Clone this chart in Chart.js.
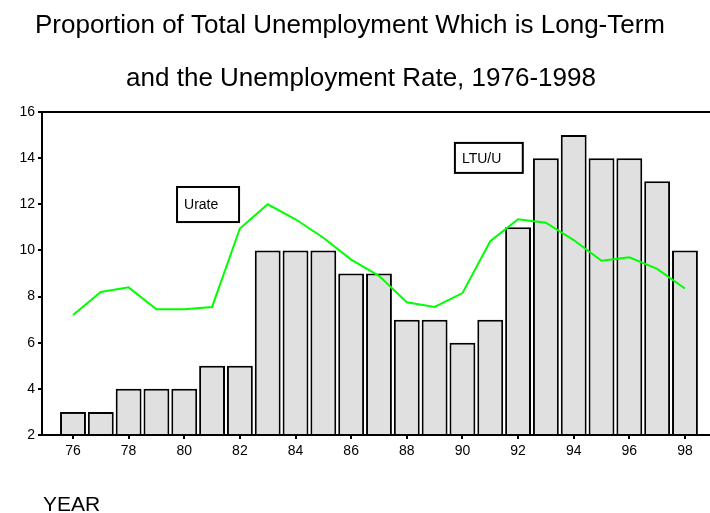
<!DOCTYPE html>
<html>
<head>
<meta charset="utf-8">
<script src="https://cdn.jsdelivr.net/npm/chart.js@4"></script>
<style>
  html, body { margin: 0; padding: 0; background: #fff; }
  #wrap { width: 710px; height: 513px; }
</style>
</head>
<body>
<div id="wrap"><canvas id="chart1" width="710" height="513"></canvas></div>
<script>
const years = [76, 77, 78, 79, 80, 81, 82, 83, 84, 85, 86, 87, 88, 89, 90, 91, 92, 93, 94, 95, 96, 97, 98];
const ltuShare = [3, 3, 4, 4, 4, 5, 5, 10, 10, 10, 9, 9, 7, 7, 6, 7, 11, 14, 15, 14, 14, 13, 10];
const urate = [7.2, 8.2, 8.4, 7.45, 7.45, 7.55, 10.95, 12.0, 11.35, 10.55, 9.6, 8.9, 7.75, 7.55, 8.15, 10.4, 11.35, 11.2, 10.45, 9.55, 9.7, 9.2, 8.35];
const xTickYears = [76, 78, 80, 82, 84, 86, 88, 90, 92, 94, 96, 98];
const yTickValues = [2, 4, 6, 8, 10, 12, 14, 16];

const FONT = '"Liberation Sans", Arial, sans-serif';

// titles, axis caption, frame top and the two series labels
const extras = {
    id: 'extras',
    afterDatasetsDraw(chart) {
        const c = chart.ctx;
        const xs = chart.scales.x;
        const ys = chart.scales.y;
        const area = chart.chartArea;
        c.save();
        c.fillStyle = '#000';
        c.textBaseline = 'alphabetic';
        c.textAlign = 'center';
        c.font = '26px ' + FONT;
        c.fillText('Proportion of Total Unemployment Which is Long-Term', 350, 33);
        c.fillText('and the Unemployment Rate, 1976-1998', 361, 86);
        c.textAlign = 'left';
        c.font = '21px ' + FONT;
        c.fillText('YEAR', 43, 511);

        c.strokeStyle = '#000';
        c.lineWidth = 2;
        c.beginPath();
        c.moveTo(area.left, area.top);
        c.lineTo(area.right, area.top);
        c.stroke();

        const box = (label, x0, x1, y0, y1) => {
            const l = xs.getPixelForValue(x0), r = xs.getPixelForValue(x1);
            const t = ys.getPixelForValue(y0), b = ys.getPixelForValue(y1);
            c.fillStyle = '#fff';
            c.fillRect(l, t, r - l, b - t);
            c.strokeRect(l, t, r - l, b - t);
            c.fillStyle = '#000';
            c.font = '14px ' + FONT;
            c.textBaseline = 'middle';
            c.fillText(label, l + 7, (t + b) / 2 + 1);
        };
        box('Urate', 79.74, 81.97, 12.75, 11.23);
        box('LTU/U', 89.73, 92.17, 14.66, 13.36);
        c.restore();
    }
};

const ctx1 = document.getElementById('chart1').getContext('2d');
const chart1 = new Chart(ctx1, {
    type: 'bar',
    data: {
        datasets: [{
            type: 'line',
            label: 'Urate',
            data: years.map((y, i) => ({ x: y, y: urate[i] })),
            borderColor: '#00ff00',
            borderWidth: 2,
            pointRadius: 0,
            tension: 0,
            fill: false,
            order: 0
        }, {
            type: 'bar',
            label: 'LTU/U',
            data: years.map((y, i) => ({ x: y, y: ltuShare[i] })),
            backgroundColor: '#e0e0e0',
            borderColor: '#000',
            borderWidth: 2,
            base: 2,
            categoryPercentage: 1,
            barPercentage: 0.93,
            order: 1
        }]
    },
    options: {
        responsive: false,
        animation: false,
        layout: { padding: { top: 112, right: 0, left: 0, bottom: 0 } },
        plugins: {
            legend: { display: false },
            tooltip: { enabled: false }
        },
        scales: {
            x: {
                type: 'linear',
                offset: false,
                min: 74.886,
                max: 98.9,
                afterBuildTicks: (s) => { s.ticks = xTickYears.map(v => ({ value: v })); },
                afterFit: (s) => { s.height = 78; },
                ticks: {
                    color: '#000',
                    font: { family: FONT, size: 14 },
                    padding: 4,
                    maxRotation: 0,
                    autoSkip: false,
                    callback: (v) => String(v)
                },
                grid: { offset: false, drawOnChartArea: false, drawTicks: true, tickLength: 4, color: '#000', lineWidth: 2 },
                border: { display: true, color: '#000', width: 2 }
            },
            y: {
                min: 2,
                max: 16,
                afterBuildTicks: (s) => { s.ticks = yTickValues.map(v => ({ value: v })); },
                afterFit: (s) => { s.width = 42; },
                ticks: {
                    color: '#000',
                    font: { family: FONT, size: 14 },
                    padding: 3
                },
                grid: { drawOnChartArea: false, drawTicks: true, tickLength: 4, color: '#000', lineWidth: 2 },
                border: { display: true, color: '#000', width: 2 }
            }
        }
    },
    plugins: [extras]
});
</script>
</body>
</html>
